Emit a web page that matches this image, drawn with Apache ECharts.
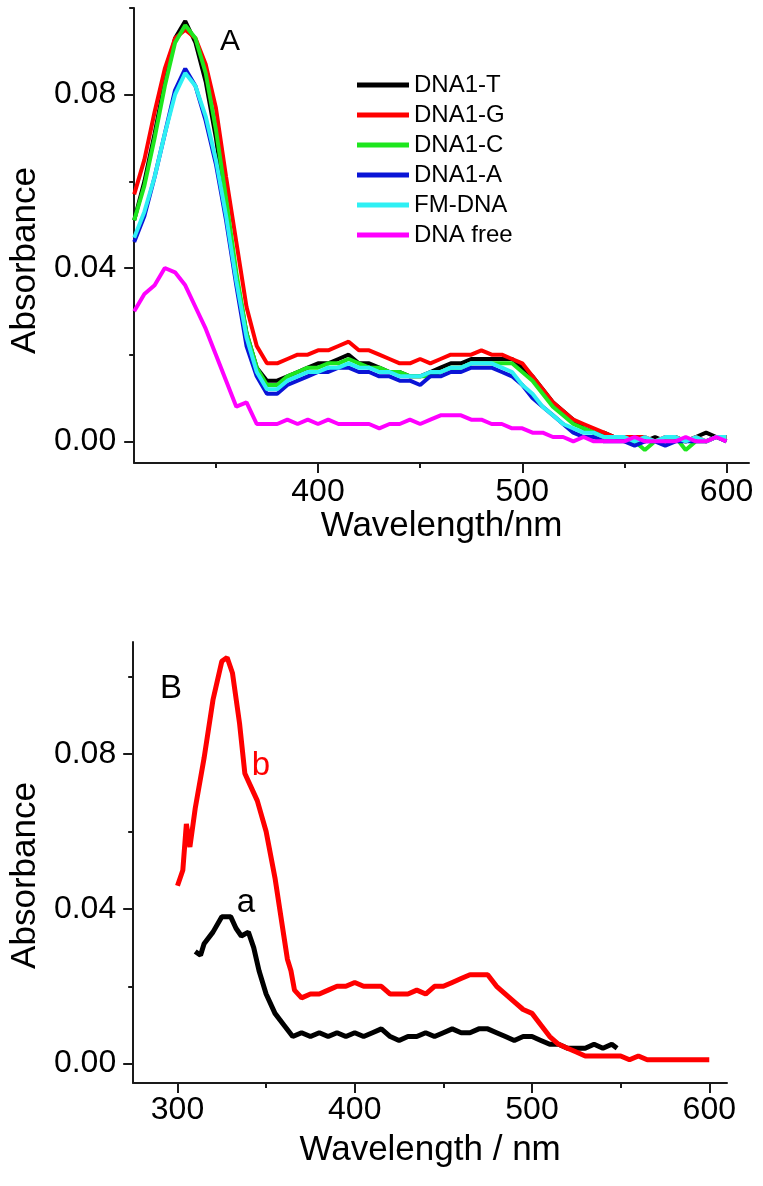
<!DOCTYPE html>
<html>
<head>
<meta charset="utf-8">
<script src="https://cdn.jsdelivr.net/npm/echarts@6/dist/echarts.min.js"></script>
<style>
  html, body { margin: 0; padding: 0; background: #fff; }
  #chart { width: 763px; height: 1186px; }
</style>
</head>
<body>
<div id="chart"></div>
<script>
// ---- panel A : absorption spectra, 310-600 nm ----
const waveA = [310, 315, 320, 325, 330, 335, 340, 345, 350, 355,
    360, 365, 370, 375, 380, 385, 390, 395, 400, 405,
    410, 415, 420, 425, 430, 435, 440, 445, 450, 455,
    460, 465, 470, 475, 480, 485, 490, 495, 500, 505,
    510, 515, 520, 525, 530, 535, 540, 545, 550, 555,
    560, 565, 570, 575, 580, 585, 590, 595, 600];
const dna1T = [0.051, 0.060, 0.071, 0.083, 0.093, 0.097, 0.092, 0.083, 0.070, 0.054,
    0.038, 0.025, 0.017, 0.014, 0.014, 0.015, 0.016, 0.017, 0.018, 0.018,
    0.019, 0.020, 0.018, 0.018, 0.017, 0.016, 0.016, 0.015, 0.015, 0.016,
    0.017, 0.018, 0.018, 0.019, 0.019, 0.019, 0.019, 0.019, 0.017, 0.015,
    0.012, 0.009, 0.007, 0.005, 0.003, 0.002, 0.002, 0.001, 0.001, 0.001,
    0.000, 0.001, 0.000, 0.001, 0.000, 0.001, 0.002, 0.001, 0.001];
const dna1G = [0.057, 0.065, 0.076, 0.086, 0.093, 0.095, 0.093, 0.087, 0.077, 0.061,
    0.046, 0.031, 0.022, 0.018, 0.018, 0.019, 0.020, 0.020, 0.021, 0.021,
    0.022, 0.023, 0.021, 0.021, 0.020, 0.019, 0.018, 0.018, 0.019, 0.018,
    0.019, 0.020, 0.020, 0.020, 0.021, 0.020, 0.020, 0.019, 0.018, 0.015,
    0.012, 0.009, 0.007, 0.005, 0.004, 0.003, 0.002, 0.001, 0.001, 0.001,
    0.001, 0.000, 0.001, 0.001, 0.000, 0.001, 0.000, 0.001, 0.001];
const dna1C = [0.051, 0.059, 0.070, 0.082, 0.092, 0.096, 0.093, 0.085, 0.072, 0.056,
    0.039, 0.025, 0.017, 0.013, 0.013, 0.015, 0.016, 0.017, 0.017, 0.018,
    0.018, 0.019, 0.018, 0.017, 0.017, 0.016, 0.016, 0.015, 0.015, 0.015,
    0.016, 0.017, 0.017, 0.018, 0.018, 0.018, 0.018, 0.018, 0.016, 0.014,
    0.011, 0.008, 0.006, 0.004, 0.003, 0.002, 0.001, 0.001, 0.000, 0.000,
    -0.002, 0.000, 0.000, 0.001, -0.002, 0.000, 0.000, 0.001, 0.000];
const dna1A = [0.046, 0.052, 0.061, 0.071, 0.081, 0.086, 0.082, 0.074, 0.064, 0.051,
    0.036, 0.022, 0.015, 0.011, 0.011, 0.013, 0.014, 0.015, 0.016, 0.016,
    0.017, 0.017, 0.016, 0.016, 0.015, 0.015, 0.014, 0.014, 0.013, 0.015,
    0.015, 0.016, 0.016, 0.017, 0.017, 0.017, 0.016, 0.015, 0.013, 0.010,
    0.008, 0.006, 0.004, 0.002, 0.001, 0.001, 0.000, 0.000, 0.000, -0.001,
    0.000, 0.000, -0.001, 0.000, 0.000, 0.000, 0.000, 0.001, 0.000];
const fmDNA = [0.047, 0.053, 0.061, 0.071, 0.080, 0.085, 0.082, 0.075, 0.065, 0.052,
    0.037, 0.024, 0.016, 0.012, 0.012, 0.014, 0.015, 0.016, 0.016, 0.017,
    0.017, 0.018, 0.017, 0.017, 0.016, 0.016, 0.015, 0.015, 0.015, 0.016,
    0.016, 0.017, 0.017, 0.018, 0.018, 0.018, 0.017, 0.016, 0.013, 0.011,
    0.008, 0.006, 0.004, 0.003, 0.002, 0.002, 0.001, 0.001, 0.001, 0.000,
    0.001, 0.000, 0.001, 0.001, 0.000, 0.001, 0.000, 0.001, 0.001];
const dnaFree = [0.030, 0.034, 0.036, 0.040, 0.039, 0.036, 0.031, 0.026, 0.020, 0.014,
    0.008, 0.009, 0.004, 0.004, 0.004, 0.005, 0.004, 0.005, 0.004, 0.005,
    0.004, 0.004, 0.004, 0.004, 0.003, 0.004, 0.004, 0.005, 0.004, 0.005,
    0.006, 0.006, 0.006, 0.005, 0.005, 0.004, 0.004, 0.003, 0.003, 0.002,
    0.002, 0.001, 0.001, 0.000, 0.001, 0.000, 0.000, 0.000, 0.000, 0.001,
    0.000, 0.000, 0.000, 0.000, 0.001, 0.000, 0.000, 0.001, 0.000];

// ---- panel B : curves a and b ----
const waveBa = [310, 313, 315, 320, 325, 330, 333, 336, 340, 343, 346, 350, 355, 360, 365,
    370, 375, 380, 385, 390, 395, 400, 405, 410, 415, 420, 425, 430, 435, 440, 445,
    450, 455, 460, 465, 470, 475, 480, 485, 490, 495, 500, 505, 510, 515, 520, 525,
    530, 535, 540, 545, 548];
const absBa = [0.029, 0.028, 0.031, 0.034, 0.038, 0.038, 0.035, 0.033, 0.034, 0.030, 0.024, 0.018, 0.013, 0.010, 0.007,
    0.008, 0.007, 0.008, 0.007, 0.008, 0.007, 0.008, 0.007, 0.008, 0.009, 0.007, 0.006, 0.007, 0.007, 0.008, 0.007,
    0.008, 0.009, 0.008, 0.008, 0.009, 0.009, 0.008, 0.007, 0.006, 0.007, 0.007, 0.006, 0.005, 0.005, 0.004, 0.004,
    0.004, 0.005, 0.004, 0.005, 0.004];
const waveBb = [300, 303, 305, 307, 310, 315, 320, 325, 328, 331, 335, 338, 341, 345, 350, 355,
    360, 362, 364, 366, 370, 375, 380, 385, 390, 395, 400, 405, 410, 415, 420, 425,
    430, 435, 440, 445, 450, 455, 460, 465, 470, 475, 480, 485, 490, 495, 500, 505,
    510, 515, 520, 525, 530, 535, 540, 545, 550, 555, 560, 565, 570, 575, 580, 585,
    590, 595, 600];
const absBb = [0.046, 0.050, 0.062, 0.056, 0.066, 0.079, 0.094, 0.104, 0.105, 0.101, 0.088, 0.075, 0.072, 0.068, 0.060, 0.048,
    0.033, 0.027, 0.024, 0.019, 0.017, 0.018, 0.018, 0.019, 0.020, 0.020, 0.021, 0.020, 0.020, 0.020, 0.018, 0.018,
    0.018, 0.019, 0.018, 0.020, 0.020, 0.021, 0.022, 0.023, 0.023, 0.023, 0.020, 0.018, 0.016, 0.014, 0.013, 0.010,
    0.007, 0.005, 0.004, 0.003, 0.002, 0.002, 0.002, 0.002, 0.002, 0.001, 0.002, 0.001, 0.001, 0.001, 0.001, 0.001,
    0.001, 0.001, 0.001];

const seriesA = [
    {name: 'DNA1-T', color: '#000000', y: dna1T},
    {name: 'DNA1-G', color: '#ff0000', y: dna1G},
    {name: 'DNA1-C', color: '#1ee61e', y: dna1C},
    {name: 'DNA1-A', color: '#0a14d6', y: dna1A},
    {name: 'FM-DNA', color: '#2ef0f4', y: fmDNA},
    {name: 'DNA free', color: '#ff00ff', y: dnaFree}
];

const FONT = 'Liberation Sans, Arial, sans-serif';
const pairs = (xs, ys) => xs.map((x, i) => [x, ys[i]]);

function majorX(grid, min, max, labels, margin, title, gap) {
    return {
        type: 'value', gridIndex: grid, position: 'bottom', min: min, max: max,
        axisLine: {show: true, onZero: false, lineStyle: {color: '#1a1a1a', width: 2}},
        axisTick: {show: true, length: 10, customValues: labels, lineStyle: {color: '#1a1a1a', width: 2}},
        axisLabel: {customValues: labels, margin: margin, color: '#000', fontSize: 32, fontFamily: FONT},
        splitLine: {show: false},
        name: title, nameLocation: 'middle', nameGap: gap,
        nameTextStyle: {color: '#000', fontSize: 35, fontFamily: FONT}
    };
}
function minorX(grid, min, max, ticks) {
    return {
        type: 'value', gridIndex: grid, position: 'bottom', min: min, max: max,
        axisLine: {show: false, onZero: false},
        axisTick: {show: true, length: 5, customValues: ticks, lineStyle: {color: '#1a1a1a', width: 2}},
        axisLabel: {show: false}, splitLine: {show: false}
    };
}
// shift: padding pushes the rotated title down along the axis
function majorY(grid, min, max, labels, margin, shift) {
    return {
        type: 'value', gridIndex: grid, position: 'left', min: min, max: max,
        axisLine: {show: true, onZero: false, lineStyle: {color: '#1a1a1a', width: 2}},
        axisTick: {show: true, length: 10, customValues: labels, lineStyle: {color: '#1a1a1a', width: 2}},
        axisLabel: {customValues: labels, margin: margin, color: '#000', fontSize: 32, fontFamily: FONT,
            formatter: v => v.toFixed(2)},
        splitLine: {show: false},
        name: 'Absorbance', nameLocation: 'middle', nameGap: 87,
        nameTextStyle: {color: '#000', fontSize: 35, fontFamily: FONT, padding: [0, shift * 2, 0, 0]}
    };
}
function minorY(grid, min, max, ticks) {
    return {
        type: 'value', gridIndex: grid, position: 'left', min: min, max: max,
        axisLine: {show: false, onZero: false},
        axisTick: {show: true, length: 5, customValues: ticks, lineStyle: {color: '#1a1a1a', width: 2}},
        axisLabel: {show: false}, splitLine: {show: false}
    };
}

const option = {
    animation: false,
    backgroundColor: '#fff',
    textStyle: {fontFamily: FONT},
    grid: [
        {left: 127, top: 8, width: 622, height: 455},
        {left: 127, top: 642, width: 600, height: 441}
    ],
    xAxis: [
        majorX(0, 310, 611, [400, 500, 600], 13, 'Wavelength/nm', 45),
        minorX(0, 310, 611, [350, 450, 550]),
        majorX(1, 275, 610, [300, 400, 500, 600], 11, 'Wavelength / nm', 50),
        minorX(1, 275, 610, [350, 450, 550])
    ],
    yAxis: [
        majorY(0, -0.005, 0.10, [0, 0.04, 0.08], 18, 25),
        minorY(0, -0.005, 0.10, [0.02, 0.06, 0.10]),
        majorY(1, -0.005, 0.109, [0, 0.04, 0.08], 17, 13),
        minorY(1, -0.005, 0.109, [0.02, 0.06, 0.10])
    ],
    legend: {
        orient: 'vertical', left: 352, top: 65, itemGap: 0,
        itemWidth: 52, itemHeight: 5, icon: 'rect',
        textStyle: {color: '#000', fontSize: 24, fontFamily: FONT, lineHeight: 30},
        data: seriesA.map(s => s.name)
    },
    graphic: [
        {type: 'text', x: 230, y: 42, style: {text: 'A', font: '30px ' + FONT, fill: '#000', textAlign: 'center', textVerticalAlign: 'middle'}},
        {type: 'text', x: 171, y: 689, style: {text: 'B', font: '33px ' + FONT, fill: '#000', textAlign: 'center', textVerticalAlign: 'middle'}},
        {type: 'text', x: 261, y: 766, style: {text: 'b', font: '33px ' + FONT, fill: '#ff0000', textAlign: 'center', textVerticalAlign: 'middle'}},
        {type: 'text', x: 246, y: 903, style: {text: 'a', font: '33px ' + FONT, fill: '#000', textAlign: 'center', textVerticalAlign: 'middle'}}
    ],
    series: seriesA.map(s => ({
        name: s.name, type: 'line', xAxisIndex: 0, yAxisIndex: 0,
        data: pairs(waveA, s.y), showSymbol: false, color: s.color,
        lineStyle: {color: s.color, width: 4}
    })).concat([
        {name: 'a', type: 'line', xAxisIndex: 2, yAxisIndex: 2, data: pairs(waveBa, absBa),
            showSymbol: false, color: '#000', lineStyle: {color: '#000', width: 5}},
        {name: 'b', type: 'line', xAxisIndex: 2, yAxisIndex: 2, data: pairs(waveBb, absBb),
            showSymbol: false, color: '#ff0000', lineStyle: {color: '#ff0000', width: 5}}
    ])
};

const chart = echarts.init(document.getElementById('chart'));
chart.setOption(option);
</script>
</body>
</html>
